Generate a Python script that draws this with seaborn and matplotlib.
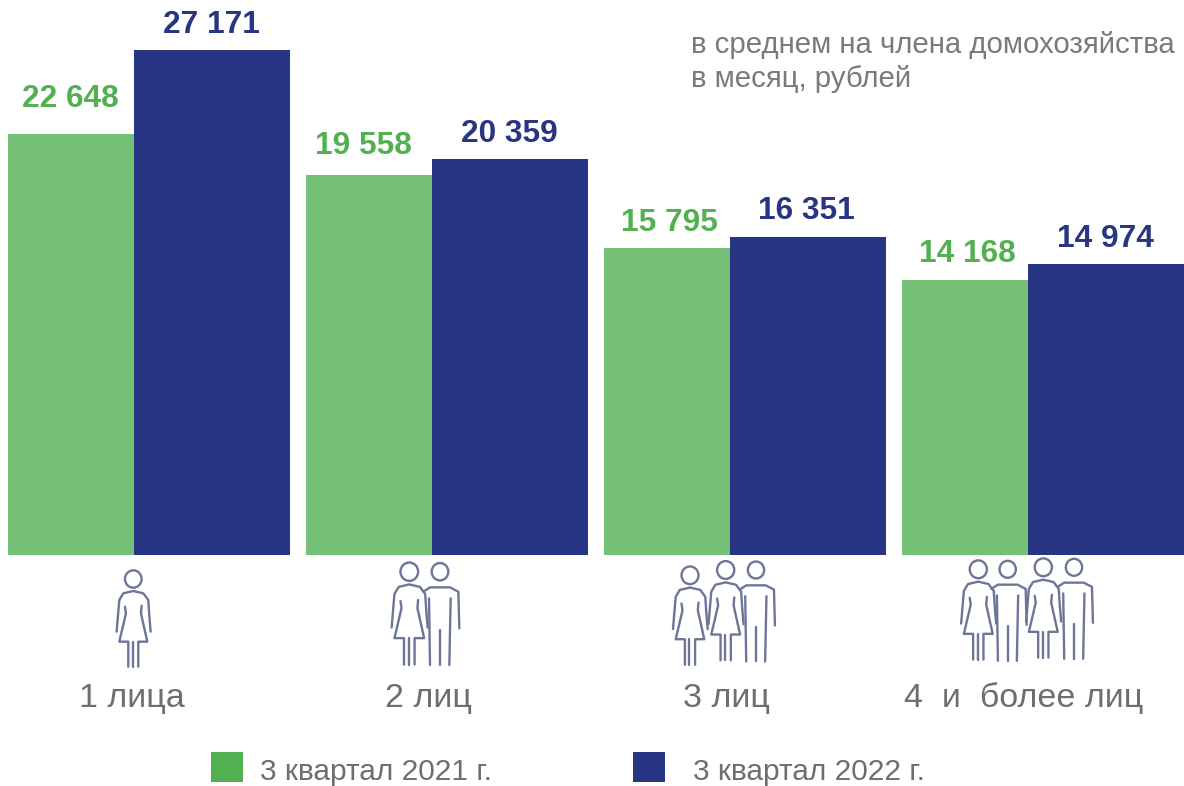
import pandas as pd
import numpy as np
import matplotlib
matplotlib.use("Agg")
import matplotlib.pyplot as plt
import seaborn as sns
from matplotlib.patches import Rectangle, Ellipse

# data
groups = ["1 лица", "2 лиц", "3 лиц", "4  и  более лиц"]
periods = ["3 квартал 2021 г.", "3 квартал 2022 г."]
values_2021 = [22648, 19558, 15795, 14168]
values_2022 = [27171, 20359, 16351, 14974]
# the picture draws the first group shorter than its labels say, heights
drawn_2021 = [21670, 19558, 15795, 14168]
drawn_2022 = [25990, 20359, 16351, 14974]
note = "в среднем на члена домохозяйства\nв месяц, рублей"

GREEN = "#74C076"
GREEN_TEXT = "#51B050"
BLUE = "#283583"
GREY = "#6E6E6E"
ICON = "#6D7598"

W, H = 1184, 786
BASE_Y = 555
PX_PER_RUB = 380 / 19558
STEP = 298

sns.set_theme(style="white")
plt.rcParams["font.family"] = ["Liberation Sans", "DejaVu Sans"]

df = pd.DataFrame({
    "group": groups * 2,
    "period": [periods[0]] * 4 + [periods[1]] * 4,
    "value": drawn_2021 + drawn_2022,
})

fig = plt.figure(figsize=(W / 100, H / 100), dpi=100)
ax = fig.add_axes([0, (H - BASE_Y) / H, 1, BASE_Y / H])
sns.barplot(data=df, x="group", y="value", hue="period", order=groups, hue_order=periods,
            palette=[GREEN, BLUE], saturation=1, width=282 / STEP, gap=0, legend=False,
            linewidth=0, ax=ax)
ax.set_xlim(-149 / STEP, (W - 149) / STEP)
ax.set_ylim(0, BASE_Y / PX_PER_RUB)
ax.axis("off")

# the blue bars are wider than the green ones, so move the edge between them
shift = 15.5 / STEP
bars = ax.patches
for b in bars[:4]:
    b.set_width(b.get_width() - shift)
for b in bars[4:8]:
    b.set_x(b.get_x() - shift)
    b.set_width(b.get_width() + shift)


def fmt(v):
    return f"{v:,}".replace(",", " ")


# label nudges in pixels, the labels do not sit exactly over the bars
green_dx = [0, -5, 3, 3]
green_dy = [38, 32, 29, 29]
blue_dx = [0, 0, -1, 0]
blue_dy = [29, 29, 30, 29]

for b, v, dx, dy in zip(bars[:4], values_2021, green_dx, green_dy):
    ax.annotate(fmt(v), (b.get_x() + b.get_width() / 2, b.get_height()), xytext=(dx, dy),
                textcoords="offset pixels", ha="center", va="center_baseline",
                color=GREEN_TEXT, fontsize=22.8, fontweight="bold")
for b, v, dx, dy in zip(bars[4:8], values_2022, blue_dx, blue_dy):
    ax.annotate(fmt(v), (b.get_x() + b.get_width() / 2, b.get_height()), xytext=(dx, dy),
                textcoords="offset pixels", ha="center", va="center_baseline",
                color=BLUE, fontsize=22.8, fontweight="bold")

# everything below the bars is placed in pixels
over = fig.add_axes([0, 0, 1, 1])
over.set_xlim(0, W)
over.set_ylim(H, 0)
over.axis("off")
over.patch.set_alpha(0)

over.text(691, 62, note, color="#7A7A7A", fontsize=21.2, va="center", ha="left", linespacing=1.28)

label_x = [132, 428.5, 726, 1023.5]
for x, name in zip(label_x, groups):
    over.text(x, 695, name, color=GREY, fontsize=24.5, ha="center", va="center_baseline")

# legend
for x, tx, c, name in [(211, 260, GREEN_TEXT, periods[0]), (633, 693, BLUE, periods[1])]:
    over.add_patch(Rectangle((x, 752), 32, 30, color=c, lw=0))
    over.text(tx, 769.5, name, color=GREY, fontsize=21.5, va="center_baseline", ha="left")

# people icons, outlines relative to head centre
WOMAN = [
    [(-50, 158), (-46, 110), (-42, 63), (-30, 43), (0, 36), (30, 43), (45, 63), (48, 110), (52, 158)],
    [(-25, 83), (-22, 103), (-42, 188), (-15, 188), (-15, 263)],
    [(25, 80), (23, 103), (42, 188), (15, 188), (15, 263)],
    [(-2, 188), (-2, 263)],
]
MAN = [
    [(-50, 60), (-30, 47), (30, 47), (55, 60), (58, 170)],
    [(-33, 80), (-30, 280)],
    [(32, 80), (28, 280)],
    [(0, 175), (0, 280)],
]


def person(cx, cy, kind, scale=1.0):
    s = scale / 3
    over.add_patch(Ellipse((cx, cy), 50 * s, 52 * s, fill=False, ec=ICON, lw=1.7))
    for line in (WOMAN if kind == "w" else MAN):
        pts = np.array(line, dtype=float) * s
        over.plot(cx + pts[:, 0], cy + pts[:, 1], color=ICON, lw=1.7, solid_joinstyle="round")


person(133.3, 579, "w")
person(409.3, 571.7, "w", 1.06)
person(440, 571.7, "m")
person(690, 575.3, "w", 1.02)
person(725.7, 570, "w", 1.03)
person(756, 570, "m", 0.98)
person(978.3, 569.3, "w", 1.03)
person(1007.7, 569.3, "m", 0.98)
person(1043.3, 567.3, "w", 1.03)
person(1074, 567.3, "m", 0.98)

over.set_xlim(0, W)
over.set_ylim(H, 0)
fig.savefig("out.png", dpi=100)
